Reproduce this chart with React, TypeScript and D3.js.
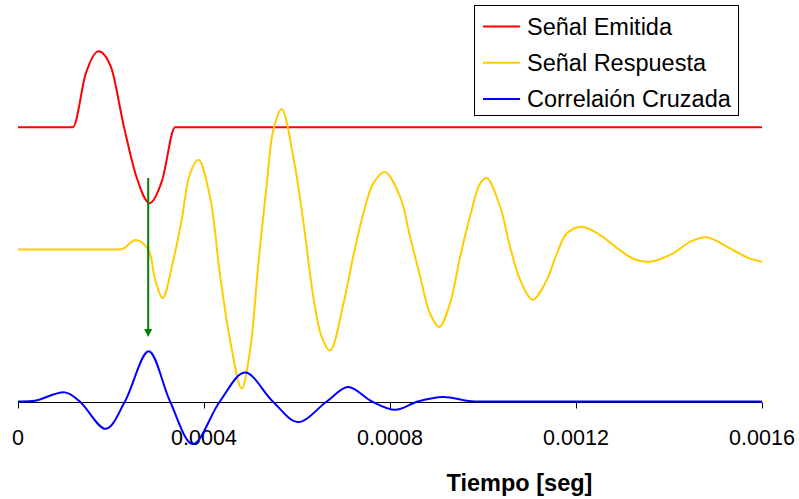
import React from "react";
import * as d3 from "d3";

// Time axis ticks (seconds)
const tickValues = [0, 0.0004, 0.0008, 0.0012, 0.0016];
const tickLabels = ["0", "0.0004", "0.0008", "0.0012", "0.0016"];

// Emitted pulse: one sine cycle, flat elsewhere
const emitidaTime = [0, 0.000118, 0.000146, 0.000173, 0.0002, 0.000228, 0.000255, 0.000283, 0.00031, 0.000338, 0.0016];
const emitidaValue = [0, 0, 0.71, 1.0, 0.79, 0.0, -0.66, -1.0, -0.7, 0, 0];

// Received response: delayed, ringing and decaying
const respuestaTime = [
  0, 0.0001, 0.00018, 0.000212, 0.000226, 0.000253, 0.00028, 0.000295, 0.000311, 0.000334, 0.000352,
  0.00037, 0.000388, 0.000413, 0.000434, 0.000456, 0.000481, 0.000499, 0.000517, 0.000535,
  0.000549, 0.000567, 0.000592, 0.000614, 0.000635, 0.000653, 0.000671, 0.0007, 0.000721,
  0.000743, 0.000764, 0.000789, 0.000822, 0.000843, 0.000865, 0.000886, 0.000906, 0.000929,
  0.000951, 0.000972, 0.000994, 0.001008, 0.001037, 0.001058, 0.00108, 0.001107, 0.001137,
  0.001159, 0.00118, 0.001212, 0.001252, 0.001288, 0.001323, 0.001359, 0.001409, 0.001445,
  0.001481, 0.001538, 0.001574, 0.0016,
];
const respuestaValue = [
  0, 0, 0, 0, 0.01, 0.125, 0, -0.4, -0.64, -0.14, 0.39,
  1.0, 1.18, 0.69, -0.31, -1.19, -1.83, -1.33, -0.18, 0.87,
  1.57, 1.85, 1.22, 0.35, -0.62, -1.15, -1.33, -0.71, -0.09,
  0.48, 0.87, 1.02, 0.69, 0.17, -0.36, -0.84, -1.02, -0.71,
  -0.09, 0.43, 0.87, 0.94, 0.56, 0.04, -0.4, -0.66, -0.4,
  -0.05, 0.21, 0.3, 0.19, 0.02, -0.12, -0.16, -0.05, 0.1,
  0.16, -0.01, -0.12, -0.16,
];

// Cross-correlation of the two signals
const correlacionTime = [
  0, 0.0000366, 0.000101, 0.000133, 0.000189, 0.00023, 0.000281, 0.000327, 0.000376, 0.000434,
  0.000488, 0.000548, 0.000602, 0.000664, 0.00071, 0.000761, 0.000811, 0.00086, 0.000914,
  0.000965, 0.000983, 0.00102, 0.0011, 0.0013, 0.0015, 0.0016,
];
const correlacionValue = [
  0, 0.01, 0.12, 0, -0.36, 0, 0.66, 0, -0.56, 0,
  0.38, 0, -0.27, 0, 0.19, 0, -0.11, 0, 0.06,
  0.01, 0, 0, 0, 0, 0, 0,
];

// Vertical offsets that stack the three traces
const seriesNames = ["Señal Emitida", "Señal Respuesta", "Correlaión Cruzada"];
const seriesColors = ["#ff0000", "#ffcc00", "#0000ff"];
const seriesOffsets = [3.61, 2.0, 0];

// Arrow marking the correlation peak
const arrowTime = 0.00028;
const arrowFrom = 2.94;
const arrowTo = 0.85;

const W = 799;
const H = 499;

export default function App() {
  const x = d3.scaleLinear().domain([0, 0.0016]).range([18, 762]);
  const y = d3.scaleLinear().domain([0, 1]).range([401.5, 325.5]);

  const series = [
    { t: emitidaTime, v: emitidaValue, curve: d3.curveMonotoneX },
    { t: respuestaTime, v: respuestaValue, curve: d3.curveCatmullRom.alpha(0.5) },
    { t: correlacionTime, v: correlacionValue, curve: d3.curveCatmullRom.alpha(0.5) },
  ];

  const paths = series.map((s, i) => {
    const pts: [number, number][] = s.t.map((t, k) => [t, s.v[k] + seriesOffsets[i]]);
    return d3
      .line<[number, number]>()
      .x((d) => x(d[0]))
      .y((d) => y(d[1]))
      .curve(s.curve)(pts) as string;
  });

  const font = "'Liberation Sans', Arial, sans-serif";
  const ax = Math.round(y(0)) + 0.5;
  const arrowX = x(arrowTime);
  const tipY = y(arrowTo);

  return (
    <svg
      width={W}
      height={H}
      style={{ position: "absolute", left: 0, top: 0, background: "#fff" }}
      fontFamily={font}
    >
      <rect width={W} height={H} fill="#fff" />

      {/* time axis */}
      <line x1={x(0)} x2={x(0.0016)} y1={ax} y2={ax} stroke="#000" strokeWidth={1} />
      {tickValues.map((t, i) => (
        <g key={i}>
          <line x1={Math.round(x(t)) + 0.5} x2={Math.round(x(t)) + 0.5} y1={ax} y2={ax + 6} stroke="#000" />
          <text x={x(t)} y={445} textAnchor="middle" fontSize={21.5} fill="#000">
            {tickLabels[i]}
          </text>
        </g>
      ))}
      <text x={519.5} y={491} textAnchor="middle" fontSize={23.5} fontWeight="bold" fill="#000">
        Tiempo [seg]
      </text>

      {/* signals */}
      {paths.map((d, i) => (
        <path key={i} d={d} fill="none" stroke={seriesColors[i]} strokeWidth={2} strokeLinejoin="round" />
      ))}

      {/* arrow */}
      <line x1={arrowX} x2={arrowX} y1={y(arrowFrom)} y2={tipY - 6} stroke="#008000" strokeWidth={2} />
      <path
        d={`M${arrowX - 4},${tipY - 8} L${arrowX + 4},${tipY - 8} L${arrowX},${tipY} Z`}
        fill="#008000"
      />

      {/* legend */}
      <rect x={474.5} y={5.5} width={264} height={110} fill="#fff" stroke="#000" strokeWidth={1} />
      {seriesNames.map((name, i) => (
        <g key={name}>
          <line x1={483} x2={520} y1={26.5 + i * 36.3} y2={26.5 + i * 36.3} stroke={seriesColors[i]} strokeWidth={2} />
          <text x={527} y={34.5 + i * 36.3} fontSize={23.5} fill="#000">
            {name}
          </text>
        </g>
      ))}
    </svg>
  );
}
